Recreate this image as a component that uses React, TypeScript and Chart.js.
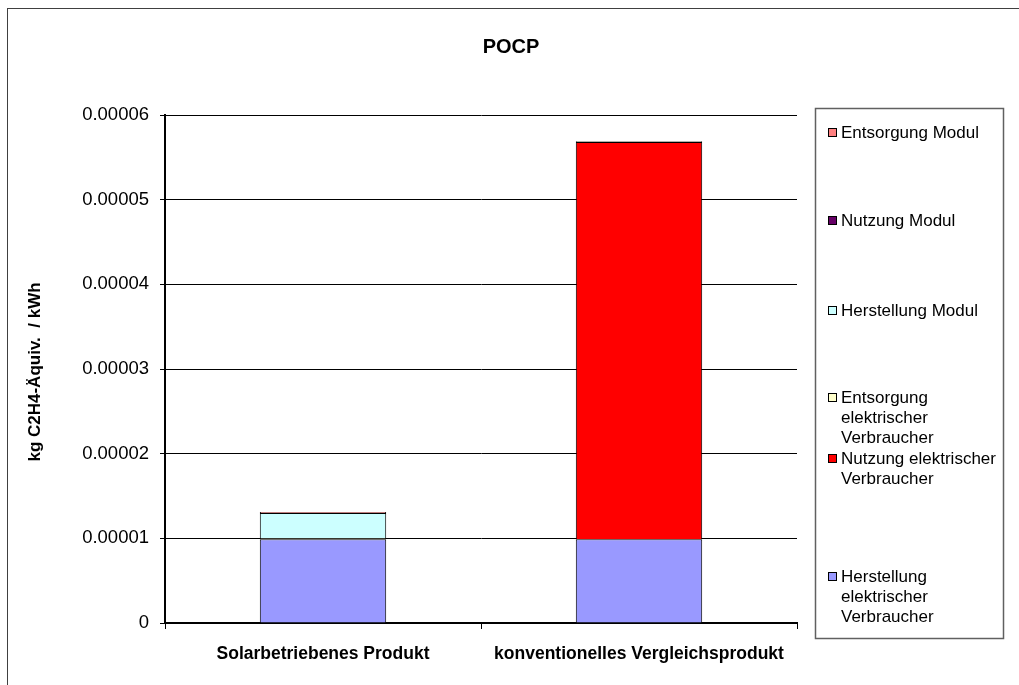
import React, { useEffect, useRef } from "react";
import { Chart, registerables } from "chart.js";

Chart.register(...registerables);

const categories = ["Solarbetriebenes Produkt", "konventionelles Vergleichsprodukt"];

// stacking order bottom -> top
const seriesNames = [
  "Herstellung elektrischer Verbraucher",
  "Nutzung elektrischer Verbraucher",
  "Entsorgung elektrischer Verbraucher",
  "Herstellung Modul",
  "Nutzung Modul",
  "Entsorgung Modul",
];
const herstellungElektr = [0.0000099, 0.0000099];
const nutzungElektr = [0, 0.0000469];
const entsorgungElektr = [0.0000001, 0.0000001];
const herstellungModul = [0.000003, 0];
const nutzungModul = [0, 0];
const entsorgungModul = [0.0000001, 0];

const seriesColors = ["#9999FF", "#FF0000", "#FFFFCC", "#CCFFFF", "#660066", "#FF8080"];

// legend lines (top -> bottom)
const legendLines: string[][] = [
  ["Entsorgung Modul"],
  ["Nutzung Modul"],
  ["Herstellung Modul"],
  ["Entsorgung", "elektrischer", "Verbraucher"],
  ["Nutzung elektrischer", "Verbraucher"],
  ["Herstellung", "elektrischer", "Verbraucher"],
];
const legendColorIdx = [5, 4, 3, 2, 1, 0];
const legendTops = [133, 221, 311, 398, 459, 577];

const chartTitle = "POCP";
const yTitle = "kg C2H4-Äquiv.  / kWh";

const FONT = "'Liberation Sans', Arial, sans-serif";

export default function App() {
  const ref = useRef<HTMLCanvasElement | null>(null);
  useEffect(() => {
    if (!ref.current) return;
    const values = [
      herstellungElektr,
      nutzungElektr,
      entsorgungElektr,
      herstellungModul,
      nutzungModul,
      entsorgungModul,
    ];
    const decor = {
      id: "decor",
      beforeDraw(chart: any) {
        const ctx = chart.ctx;
        ctx.save();
        ctx.fillStyle = "#fff";
        ctx.fillRect(0, 0, chart.width, chart.height);
        ctx.restore();
      },
      afterDraw(chart: any) {
        const ctx = chart.ctx;
        ctx.save();
        // outer border
        ctx.strokeStyle = "#404040";
        ctx.lineWidth = 1;
        ctx.strokeRect(7.5, 8.5, 3000, 3000);
        // title
        ctx.fillStyle = "#000";
        ctx.font = `bold 20px ${FONT}`;
        ctx.textAlign = "center";
        ctx.textBaseline = "middle";
        ctx.fillText(chartTitle, 511, 47);
        // y title
        ctx.save();
        ctx.translate(35, 372);
        ctx.rotate(-Math.PI / 2);
        ctx.font = `bold 17px ${FONT}`;
        ctx.fillText(yTitle, 0, 0);
        ctx.restore();
        // legend box
        ctx.strokeStyle = "#606060";
        ctx.lineWidth = 1.5;
        ctx.strokeRect(815.5, 108.5, 188, 530);
        ctx.font = `17px ${FONT}`;
        ctx.textAlign = "left";
        legendLines.forEach((lines, i) => {
          const y0 = legendTops[i];
          ctx.fillStyle = seriesColors[legendColorIdx[i]];
          ctx.fillRect(828, y0 - 5, 9, 9);
          ctx.strokeStyle = "#000";
          ctx.lineWidth = 1;
          ctx.strokeRect(828.5, y0 - 4.5, 8, 8);
          ctx.fillStyle = "#000";
          lines.forEach((t, j) => ctx.fillText(t, 841, y0 + j * 20));
        });
        ctx.restore();
      },
    };
    const chart = new Chart(ref.current, {
      type: "bar",
      data: {
        labels: categories,
        datasets: seriesNames.map((n, i) => ({
          label: n,
          data: values[i],
          backgroundColor: seriesColors[i],
          borderColor: "#000",
          borderWidth: 1,
          barPercentage: 0.4,
          categoryPercentage: 1,
        })),
      },
      options: {
        animation: false,
        responsive: false,
        devicePixelRatio: 1,
        layout: { padding: { left: 0, top: 115, right: 222, bottom: 0 } },
        plugins: { legend: { display: false }, title: { display: false }, tooltip: { enabled: false } },
        scales: {
          x: {
            stacked: true,
            afterFit: (s: any) => {
              s.height = 62;
            },
            grid: { drawOnChartArea: false, drawTicks: true, tickLength: 6, color: "#000", offset: true },
            border: { color: "#000", width: 2 },
            ticks: { color: "#000", padding: 15, font: { family: FONT, size: 17.5, weight: "bold" } },
          },
          y: {
            stacked: true,
            min: 0,
            max: 0.00006,
            afterFit: (s: any) => {
              s.width = 165;
            },
            grid: { color: "#000", lineWidth: 1, tickLength: 5 },
            border: { color: "#000", width: 2 },
            ticks: {
              stepSize: 0.00001,
              color: "#000",
              padding: 11,
              font: { family: FONT, size: 18.5 },
              callback: (v: any) => {
                const n = Math.round(Number(v) * 1e5) / 1e5;
                return n === 0 ? "0" : n.toFixed(5);
              },
            },
          },
        },
      },
      plugins: [decor],
    } as any);
    return () => chart.destroy();
  }, []);
  return (
    <div style={{ position: "fixed", left: 0, top: 0, width: 1019, height: 685 }}>
      <canvas ref={ref} width={1019} height={685} style={{ width: 1019, height: 685, display: "block" }} />
    </div>
  );
}
